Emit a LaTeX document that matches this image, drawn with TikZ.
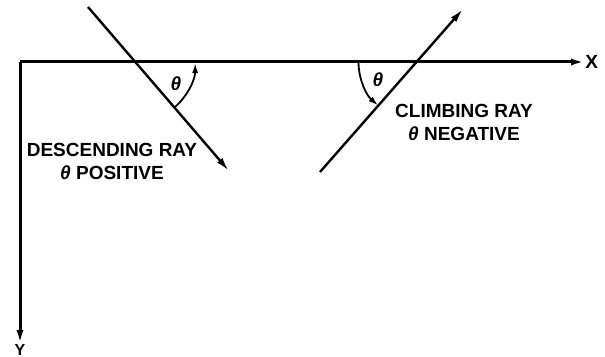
\documentclass[tikz,border=0pt]{standalone}
\usepackage{fontspec}
\setmainfont{Liberation Sans}
\usetikzlibrary{arrows.meta}

\begin{document}
\begin{tikzpicture}[
        x=0.5pt, y=-0.5pt,
        axis/.style={line width=1.5pt, -{Latex[length=7pt,width=3.5pt]}},
        ray/.style={line width=1.2pt, -{Latex[length=7pt,width=3.5pt]}},
        angarrow/.style={line width=0.9pt, -{Latex[length=5pt,width=3pt]}},
        lbl/.style={font=\fontsize{9.5}{11.5}\selectfont\bfseries, align=center, inner sep=0pt},
        theta/.style={font=\fontsize{9.5}{11}\selectfont\bfseries\itshape, inner sep=0pt}
      ]
        \useasboundingbox (0,0) rectangle (605,357);
        % axes
        \coordinate (origin) at (20,62);
        \node[lbl, anchor=west] (xlab) at (585,62) {X};
        \node[lbl, anchor=south, font=\fontsize{8}{9}\selectfont\bfseries] (ylab) at (20,356) {Y};
        \draw[axis] (origin) -- (xlab.west);
        \draw[axis] (origin) -- (ylab.north);
        % descending ray
        \coordinate (dtail) at (88,7);
        \coordinate (dhead) at (229,171);
        \coordinate (dcross) at (135.3,62);
        \draw[ray] (dtail) -- (dhead);
        \draw[angarrow] ([shift={(49.3:60)}]dcross) arc[start angle=49.3, end angle=1, radius=60];
        \node[theta] (dtheta) at (176,84) {θ};
        \node[lbl] (dtext) at (112,161) {DESCENDING RAY\\\textit{θ} POSITIVE};
        % climbing ray
        \coordinate (ctail) at (320,172);
        \coordinate (chead) at (463,9);
        \coordinate (ccross) at (416.5,62);
        \draw[ray] (ctail) -- (chead);
        \draw[angarrow] ([shift={(179:58)}]ccross) arc[start angle=179, end angle=131.3, radius=58];
        \node[theta] (ctheta) at (378,80) {θ};
        \node[lbl] (ctext) at (464,122) {CLIMBING RAY\\\textit{θ} NEGATIVE};
      \end{tikzpicture}
\end{document}
